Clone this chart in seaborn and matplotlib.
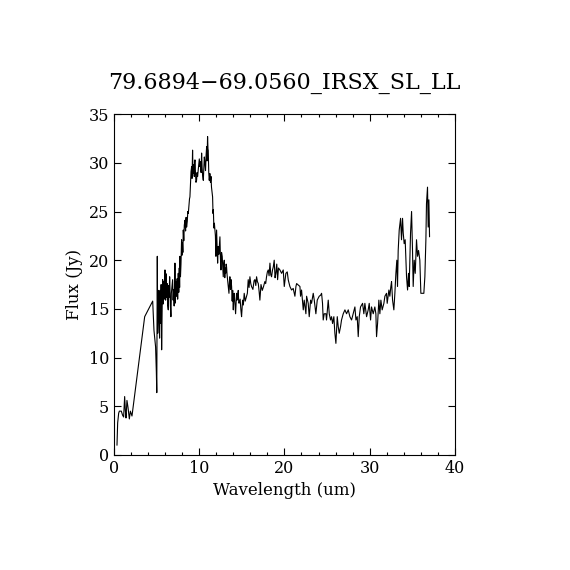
import numpy as np
import pandas as pd
import seaborn as sns
import matplotlib
matplotlib.use("Agg")
import matplotlib.pyplot as plt
from matplotlib.ticker import MultipleLocator

# spectrum
wavelength = [
    0.35, 0.43, 0.55, 0.63, 0.86, 1.0, 1.13, 1.25, 1.33, 1.41, 1.52, 1.64, 1.72, 1.8, 1.92, 2.11,
    3.6, 4.42, 4.54, 4.69, 4.88, 4.97, 5.02, 5.08, 5.13, 5.2, 5.28, 5.35,
    5.4, 5.47, 5.53, 5.59, 5.65, 5.71, 5.77, 5.83, 5.9, 5.98, 6.03, 6.06, 6.12, 6.18, 6.24, 6.3,
    6.37, 6.42, 6.47, 6.53, 6.57, 6.62, 6.68, 6.73, 6.8, 6.88, 6.94, 7.0, 7.06, 7.12, 7.15, 7.2,
    7.27, 7.35, 7.41, 7.47, 7.54, 7.6, 7.66, 7.7, 7.74, 7.8, 7.86, 7.93, 7.97, 8.03, 8.08, 8.13,
    8.19, 8.25, 8.33, 8.4, 8.46, 8.52, 8.6, 8.66, 8.72, 8.8, 8.86, 8.91, 8.98, 9.04, 9.11, 9.16,
    9.22, 9.26, 9.3, 9.36, 9.42, 9.46, 9.5, 9.56, 9.62, 9.69, 9.75, 9.81, 9.89, 9.95, 10.01, 10.09,
    10.15, 10.22, 10.28, 10.34, 10.4, 10.48, 10.54, 10.6, 10.67, 10.74, 10.81, 10.87, 10.92, 10.98,
    11.03, 11.06, 11.12, 11.18, 11.25, 11.32, 11.38, 11.44, 11.5, 11.57, 11.62, 11.66, 11.72, 11.78,
    11.84, 11.9, 11.96, 12.0, 12.04, 12.1, 12.16, 12.23, 12.3, 12.36, 12.43, 12.49, 12.55, 12.62,
    12.7, 12.76, 12.82, 12.88, 12.94, 13.0, 13.05, 13.1, 13.16, 13.21, 13.27, 13.33, 13.4, 13.49,
    13.55, 13.6, 13.67, 13.74, 13.8, 13.87, 13.93, 14.0, 14.05, 14.11, 14.18, 14.27, 14.33, 14.38,
    14.44, 14.5, 14.58, 14.64, 14.7, 14.8, 14.89, 14.97, 15.09, 15.18, 15.28, 15.4, 15.56, 15.65,
    15.75, 15.85, 15.95, 16.05, 16.14, 16.3, 16.44, 16.54, 16.64, 16.73, 16.83, 16.93, 17.03, 17.12,
    17.25, 17.4, 17.55, 17.7, 17.8, 17.9, 18.0, 18.1, 18.2, 18.3, 18.4, 18.49, 18.6, 18.69, 18.8,
    18.9, 19.0, 19.1, 19.2, 19.3, 19.47, 19.67, 19.86, 19.98, 20.17, 20.33, 20.45, 20.64, 20.84,
    21.03, 21.23, 21.35, 21.43, 21.62, 21.82, 21.89, 22.01, 22.21, 22.32, 22.52, 22.6, 22.79, 22.91,
    23.07, 23.18, 23.38, 23.5, 23.69, 23.85, 24.08, 24.24, 24.36, 24.47, 24.55, 24.67, 24.87, 24.94,
    25.14, 25.26, 25.41, 25.53, 25.65, 25.8, 25.92, 26.04, 26.2, 26.31, 26.43, 26.59, 26.7, 26.9,
    27.1, 27.29, 27.49, 27.68, 27.88, 28.07, 28.27, 28.39, 28.54, 28.66, 28.78, 28.93, 29.17, 29.32,
    29.44, 29.64, 29.83, 29.95, 30.11, 30.22, 30.42, 30.61, 30.73, 30.81, 30.93, 31.08, 31.2, 31.32,
    31.47, 31.67, 31.79, 31.98, 32.06, 32.26, 32.37, 32.49, 32.57, 32.69, 32.84, 32.96, 33.08, 33.19,
    33.27, 33.35, 33.47, 33.63, 33.74, 33.86, 33.94, 34.05, 34.17, 34.33, 34.45, 34.56, 34.64, 34.8,
    34.92, 35.03, 35.11, 35.23, 35.35, 35.5, 35.62, 35.74, 35.89, 36.01, 36.2, 36.36, 36.48, 36.6,
    36.67, 36.79, 36.87, 36.95, 37.03,
]
flux = [
    1.0, 3.3, 4.3, 4.5, 4.5, 4.1, 3.9, 6.0, 4.6, 3.8, 5.6, 4.9, 4.3, 3.7, 4.5, 4.0,
    14.2, 15.6, 15.8, 12.8, 11.1, 8.5, 6.4, 20.4, 12.5, 16.9, 14.5, 12.0,
    16.9, 13.5, 17.5, 10.8, 15.0, 18.0, 15.5, 17.8, 16.0, 19.0, 16.5, 15.9, 18.6, 16.2, 17.6, 15.4,
    14.9, 17.4, 16.2, 18.3, 16.9, 15.3, 14.2, 16.6, 17.3, 18.0, 15.9, 17.0, 15.3, 17.6, 19.7, 15.6,
    17.8, 16.3, 18.1, 16.0, 18.65, 16.7, 19.2, 17.2, 20.4, 18.3, 19.6, 22.1, 20.5, 21.8, 20.8, 23.1,
    22.0, 23.6, 24.1, 23.0, 24.4, 23.4, 24.0, 25.0, 24.8, 25.6, 26.3, 26.5, 28.0, 29.1, 29.6, 28.4,
    31.3, 29.5, 28.9, 29.8, 28.6, 30.0, 30.3, 29.0, 28.0, 28.2, 29.0, 28.6, 29.3, 29.8, 30.4, 29.6,
    30.1, 29.0, 31.0, 29.5, 28.7, 28.2, 29.5, 30.6, 30.0, 29.2, 30.8, 31.65, 30.2, 32.7,
    31.4, 31.3, 29.0, 28.2, 28.9, 28.0, 28.6, 27.5, 27.0, 26.5, 24.8, 25.2, 23.3, 23.8,
    23.1, 22.5, 20.4, 22.0, 23.1, 21.3, 19.7, 21.4, 20.6, 21.5, 22.4, 20.2, 19.0, 20.8,
    20.4, 19.4, 18.3, 19.6, 20.0, 18.2, 19.2, 18.65, 19.6, 19.3, 18.5, 18.0, 17.4, 16.6,
    17.8, 18.3, 17.0, 18.0, 17.3, 15.8, 16.9, 14.9, 16.2, 16.6, 15.6, 14.5, 15.6, 16.6,
    15.9, 16.2, 16.9, 15.6, 15.6, 16.0, 14.9, 14.2, 15.9, 15.4, 16.6, 15.8, 16.3, 16.6,
    18.0, 17.2, 18.3, 17.6, 17.3, 17.0, 17.9, 18.0, 17.4, 18.3, 17.8, 17.6, 16.8, 15.9,
    17.5, 16.9, 17.3, 17.8, 17.6, 18.3, 18.8, 19.0, 18.4, 19.7, 18.5, 18.3, 19.0, 19.3, 20.0,
    18.2, 18.7, 19.6, 18.0, 19.2, 19.0, 18.65, 19.0, 17.3, 18.65, 18.8, 17.97, 17.3, 16.94,
    17.1, 16.3, 17.3, 17.6, 17.45, 17.3, 16.3, 16.94, 14.9, 15.9, 14.5, 16.3, 15.57, 14.2,
    15.9, 15.57, 16.6, 15.9, 14.5, 15.9, 16.3, 16.4, 16.6, 15.57, 13.86, 14.5, 14.5, 13.86,
    15.9, 14.5, 13.86, 14.2, 13.5, 14.2, 12.5, 11.46, 14.2, 13.2, 12.5, 13.2, 13.86, 14.5,
    14.9, 14.5, 14.9, 14.2, 13.86, 14.5, 15.2, 13.86, 14.2, 12.15, 14.2, 15.2, 15.57, 14.5,
    15.57, 14.2, 14.9, 15.57, 13.86, 15.2, 14.5, 15.2, 14.5, 12.15, 13.5, 15.9, 14.5, 15.9,
    14.9, 15.57, 16.3, 16.6, 15.57, 16.94, 16.3, 17.3, 17.8, 15.9, 14.9, 16.6, 18.65, 20.0,
    17.3, 21.0, 23.1, 24.3, 22.1, 24.3, 22.8, 21.7, 22.1, 18.3, 16.94, 18.65, 17.3, 22.8,
    25.0, 21.0, 17.3, 20.0, 18.65, 22.1, 20.4, 21.0, 20.0, 16.6, 16.6, 16.6, 18.3, 22.1,
    25.8, 27.5, 23.4, 26.2, 22.4,
]

title = "79.6894\u221269.0560_IRSX_SL_LL"

df = pd.DataFrame({"Wavelength": wavelength, "Flux": flux})

sns.set_style("ticks")
plt.rcParams["font.family"] = ["DejaVu Serif", "DejaVu Sans"]
plt.rcParams["text.color"] = "black"
plt.rcParams["axes.labelcolor"] = "black"

fig = plt.figure(figsize=(5.7, 5.7), dpi=100)
ax = fig.add_axes([0.2, 0.2018, 0.598, 0.598])

sns.lineplot(data=df, x="Wavelength", y="Flux", sort=False, estimator=None,
             color="black", linewidth=0.8, ax=ax)

ax.set_xlim(0, 40)
ax.set_ylim(0, 35)
ax.xaxis.set_major_locator(MultipleLocator(10))
ax.xaxis.set_minor_locator(MultipleLocator(2))
ax.yaxis.set_major_locator(MultipleLocator(5))
ax.tick_params(which="both", direction="in", top=True, right=True, width=0.8,
               labelsize=11.5, colors="black")
ax.tick_params(which="major", length=5)
ax.tick_params(which="minor", length=2.5)
for s in ax.spines.values():
    s.set_linewidth(0.8)
    s.set_color("black")

ax.set_xlabel("Wavelength (um)", fontsize=12, color="black")
ax.set_ylabel("Flux (Jy)", fontsize=12, color="black")
ax.set_title(title, fontsize=16, pad=18, color="black")

plt.savefig("out.png", dpi=100)
